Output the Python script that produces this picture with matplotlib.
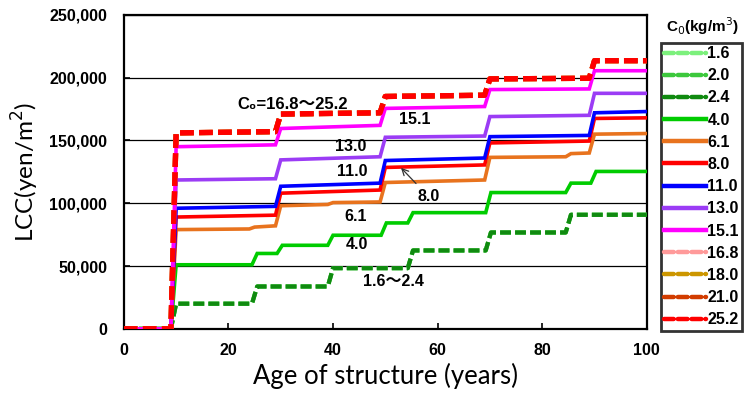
import matplotlib
matplotlib.use("Agg")
import matplotlib.pyplot as plt
from matplotlib.ticker import FuncFormatter, MultipleLocator
from matplotlib.lines import Line2D

# ---------------- data ----------------
concentrations = ["1.6", "2.0", "2.4", "4.0", "6.1", "8.0", "11.0", "13.0",
                  "15.1", "16.8", "18.0", "21.0", "25.2"]

# step start years (the cost rises over ~1 year after each) and level values (start, end)
years_main = [9, 29, 49, 69, 89]
lv_252 = [(156000, 157000), (171000, 172000), (185000, 186000), (199000, 199500), (213500, 213500)]
lv_151 = [(145000, 146500), (159500, 162000), (175500, 177000), (190500, 191000), (205500, 205500)]
lv_130 = [(118500, 119500), (134500, 137000), (152500, 153500), (169000, 170000), (187500, 187500)]
lv_110 = [(96000, 97500), (113500, 116000), (134000, 136000), (153000, 154000), (172000, 173000)]
lv_80 = [(89000, 90500), (108000, 110500), (128500, 130500), (148000, 149500), (167500, 168000)]

years_61 = [9, 24, 29, 39, 49, 69, 84.5, 89]
lv_61 = [(79000, 79500), (81000, 82000), (98000, 99000), (100500, 101000), (116500, 118500),
         (136500, 137000), (139500, 140000), (155000, 155500)]

years_40 = [9, 24.5, 29.3, 39, 49.2, 54.3, 69.2, 84.5, 89.3]
lv_40 = [(51000, 51000), (60000, 60000), (66500, 66500), (74500, 74500), (84300, 84300),
         (92500, 92500), (108500, 108500), (116000, 116000), (125300, 125300)]

years_24 = [9, 24.5, 39, 54.3, 69.2, 84.5]
lv_24 = [(20000, 20000), (33700, 33700), (48300, 48300), (62400, 62400),
         (76700, 76700), (90800, 90800)]

series = {
    "1.6": (years_24, lv_24), "2.0": (years_24, lv_24), "2.4": (years_24, lv_24),
    "4.0": (years_40, lv_40), "6.1": (years_61, lv_61), "8.0": (years_main, lv_80),
    "11.0": (years_main, lv_110), "13.0": (years_main, lv_130), "15.1": (years_main, lv_151),
    "16.8": (years_main, lv_252), "18.0": (years_main, lv_252), "21.0": (years_main, lv_252),
    "25.2": (years_main, lv_252),
}

colors = {
    "1.6": "#7CF07C", "2.0": "#3CC83C", "2.4": "#108A10", "4.0": "#00CC00",
    "6.1": "#E8731E", "8.0": "#FF0000", "11.0": "#0000FF", "13.0": "#9B3CF5",
    "15.1": "#FF00FF", "16.8": "#FF9A9A", "18.0": "#CC9600", "21.0": "#D23C00",
    "25.2": "#FF0000",
}
dashed = {"1.6", "2.0", "2.4", "16.8", "18.0", "21.0", "25.2"}

age_max = 100
ramp = 1.0


def build(years, levels):
    xs, ys = [0], [0]
    prev = 0
    for i, (yr, (a, b)) in enumerate(zip(years, levels)):
        xs.append(yr); ys.append(prev)
        xs.append(yr + ramp); ys.append(a)
        end = years[i + 1] if i + 1 < len(years) else age_max
        xs.append(end); ys.append(b)
        prev = b
    return xs, ys


# ---------------- figure ----------------
fig = plt.figure(figsize=(7.46, 4.01), dpi=100)
ax = fig.add_axes([0.166, 0.180, 0.701, 0.783])

tick_font = "Liberation Sans"
label_font = "Lato"
cjk = ["Liberation Sans", "Noto Sans CJK JP"]

for c in concentrations:
    xs, ys = build(*series[c])
    if c in dashed:
        lw = 3.8 if c in {"16.8", "18.0", "21.0", "25.2"} else 3.0
        ax.plot(xs, ys, color=colors[c], lw=lw, dashes=(2.6, 1.0), dash_capstyle="butt",
                zorder=3 if c != "25.2" else 5)
    else:
        ax.plot(xs, ys, color=colors[c], lw=2.6, solid_joinstyle="miter", zorder=4)

ax.set_xlim(0, 100)
ax.set_ylim(0, 250000)
ax.xaxis.set_major_locator(MultipleLocator(20))
ax.yaxis.set_major_locator(MultipleLocator(50000))
ax.yaxis.set_major_formatter(FuncFormatter(lambda v, p: f"{int(v):,}"))
ax.grid(axis="y", color="black", lw=0.9)
ax.set_axisbelow(True)
ax.tick_params(axis="y", direction="in", length=4, width=1.2, pad=12)
ax.tick_params(axis="x", direction="in", length=4, width=1.2, pad=10)
for lab in ax.get_xticklabels() + ax.get_yticklabels():
    lab.set_fontfamily(tick_font)
    lab.set_fontweight("bold")
    lab.set_fontsize(11.5)
for s in ax.spines.values():
    s.set_linewidth(1.6)

ax.set_xlabel("Age of structure (years)", fontsize=18.5, fontfamily=label_font, labelpad=4)
ax.set_ylabel("LCC(yen/m$^2$)", fontsize=17.5, fontfamily=label_font, labelpad=6)

# annotations
ann_kw = dict(fontsize=11.5, fontweight="bold", fontfamily=tick_font, ha="center", va="center",
              zorder=6)
ax.text(32.2, 179000, "C\u2080=16.8～25.2", **{**ann_kw, "fontfamily": cjk, "fontsize": 12})
ax.text(55.6, 167000, "15.1", **ann_kw)
ax.text(43.4, 144900, "13.0", **ann_kw)
ax.text(43.6, 125200, "11.0", **ann_kw)
ax.text(44.3, 89400, "6.1", **ann_kw)
ax.text(44.5, 66900, "4.0", **ann_kw)
ax.text(51.6, 37400, "1.6～2.4", **{**ann_kw, "fontfamily": cjk})
ax.annotate("8.0", xy=(53, 128200), xytext=(58.3, 105100),
            arrowprops=dict(arrowstyle="->", color="#333333", lw=0.9, shrinkA=3, shrinkB=0),
            **ann_kw)

# legend
handles = []
for c in concentrations:
    if c in dashed:
        h = Line2D([], [], color=colors[c], lw=3.2, dashes=(2.2, 0.9), dash_capstyle="round")
    else:
        h = Line2D([], [], color=colors[c], lw=3.2)
    handles.append(h)
leg = fig.legend(handles, concentrations, loc="upper left", bbox_to_anchor=(0.886, 0.893),
                 prop=dict(family=tick_font, weight="bold", size=11.5),
                 handlelength=2.6, handletextpad=0.1, labelspacing=0.45,
                 borderpad=0.2, borderaxespad=0.0, frameon=True, fancybox=False)
leg.get_frame().set_edgecolor("black")
leg.get_frame().set_linewidth(2.0)
fig.text(0.941, 0.935, "C$_0$(kg/m$^3$)", ha="center", va="center",
         fontsize=11, fontweight="bold", fontfamily=tick_font)

fig.savefig("out.png", dpi=100)
